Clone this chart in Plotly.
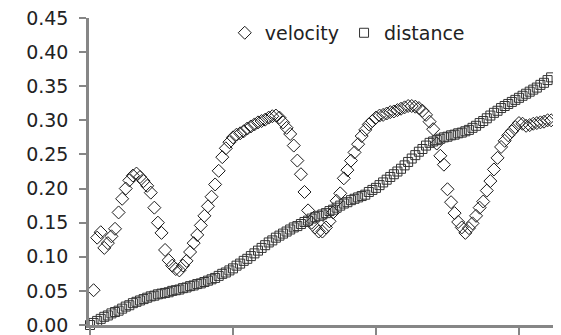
import plotly.graph_objects as go

# time grid (s), 130 samples
time = [round(i * 0.025, 3) for i in range(130)]

velocity = [None, 0.051, 0.128, 0.136, 0.113, 0.120, 0.130, 0.141, 0.165, 0.185,
            0.200, 0.212, 0.219, 0.222, 0.217, 0.211, 0.204, 0.194, 0.172, 0.150,
            0.135, 0.110, 0.095, 0.087, 0.082, 0.080, 0.087, 0.094, 0.107, 0.120,
            0.132, 0.146, 0.160, 0.174, 0.188, 0.206, 0.226, 0.246, 0.259, 0.268,
            0.275, 0.279, 0.281, 0.284, 0.288, 0.291, 0.294, 0.297, 0.299, 0.301,
            0.304, 0.306, 0.307, 0.304, 0.297, 0.289, 0.280, 0.263, 0.241, 0.221,
            0.195, 0.168, 0.150, 0.143, 0.137, 0.137, 0.143, 0.152, 0.165, 0.182,
            0.193, 0.215, 0.227, 0.241, 0.253, 0.265, 0.277, 0.286, 0.294, 0.299,
            0.304, 0.307, 0.308, 0.310, 0.312, 0.313, 0.315, 0.317, 0.319, 0.321,
            0.321, 0.320, 0.318, 0.314, 0.308, 0.298, 0.287, 0.266, 0.248, 0.235,
            0.199, 0.180, 0.164, 0.151, 0.143, 0.135, 0.142, 0.149, 0.160, 0.172,
            0.181, 0.197, 0.211, 0.228, 0.245, 0.261, 0.270, 0.278, 0.284, 0.290,
            0.296, 0.295, 0.292, 0.293, 0.295, 0.296, 0.297, 0.298, 0.300, 0.300]

distance = [0.000, 0.003, 0.006, 0.009, 0.012, 0.014, 0.017, 0.019, 0.021, 0.024,
            0.027, 0.029, 0.032, 0.034, 0.036, 0.038, 0.040, 0.042, 0.043, 0.045,
            0.046, 0.047, 0.048, 0.050, 0.051, 0.052, 0.054, 0.055, 0.057, 0.058,
            0.060, 0.061, 0.063, 0.065, 0.067, 0.069, 0.072, 0.075, 0.077, 0.080,
            0.083, 0.087, 0.090, 0.094, 0.097, 0.101, 0.105, 0.109, 0.113, 0.117,
            0.121, 0.124, 0.128, 0.131, 0.134, 0.137, 0.140, 0.143, 0.145, 0.148,
            0.151, 0.153, 0.156, 0.158, 0.160, 0.162, 0.164, 0.167, 0.169, 0.172,
            0.175, 0.178, 0.180, 0.183, 0.185, 0.187, 0.189, 0.191, 0.195, 0.198,
            0.201, 0.205, 0.209, 0.213, 0.217, 0.221, 0.225, 0.229, 0.234, 0.239,
            0.244, 0.249, 0.254, 0.258, 0.263, 0.267, 0.269, 0.271, 0.273, 0.275,
            0.276, 0.278, 0.279, 0.281, 0.282, 0.284, 0.286, 0.289, 0.292, 0.296,
            0.299, 0.303, 0.307, 0.311, 0.314, 0.318, 0.321, 0.324, 0.327, 0.330,
            0.333, 0.336, 0.339, 0.342, 0.345, 0.348, 0.352, 0.355, 0.359, 0.363]

y_ticks = [0.00, 0.05, 0.10, 0.15, 0.20, 0.25, 0.30, 0.35, 0.40, 0.45]
y_tick_labels = [f"{v:.2f}" for v in y_ticks]

fig = go.Figure()
fig.add_trace(go.Scatter(
    x=time, y=velocity, name="velocity", mode="markers",
    marker=dict(symbol="diamond-open", size=10, color="#1a1a1a", line=dict(width=1)),
    cliponaxis=False,
))
fig.add_trace(go.Scatter(
    x=time, y=distance, name="distance", mode="markers",
    marker=dict(symbol="square-open", size=9, color="#333333", line=dict(width=1)),
    cliponaxis=False,
))

axis_color = "#868686"
# page body has an 8px default margin, so the figure is sized/offset accordingly
fig.update_layout(
    width=553, height=327,
    margin=dict(l=81, r=7, t=9, b=10),
    paper_bgcolor="white", plot_bgcolor="white",
    font=dict(family="DejaVu Sans", size=19, color="#222"),
    showlegend=True,
    legend=dict(orientation="h", x=0.292, xanchor="left", y=1.01, yanchor="top",
                bgcolor="rgba(0,0,0,0)", font=dict(size=19), itemwidth=30,
                tracegroupgap=0),
    xaxis=dict(range=[-0.007, 3.245], showgrid=False, zeroline=False,
               showline=True, linecolor=axis_color, linewidth=2.5,
               ticks="outside", ticklen=7, tickwidth=2, tickcolor=axis_color,
               tickvals=[0, 1, 2, 3], showticklabels=False, automargin=False),
    yaxis=dict(range=[0, 0.45], showgrid=False, zeroline=False,
               showline=True, linecolor=axis_color, linewidth=2.5,
               ticks="outside", ticklen=7, tickwidth=2, tickcolor=axis_color,
               tickvals=y_ticks, ticktext=y_tick_labels,
               ticklabelstandoff=7, ticklabeloverflow="allow", automargin=False),
)

fig.write_html("out.html")
